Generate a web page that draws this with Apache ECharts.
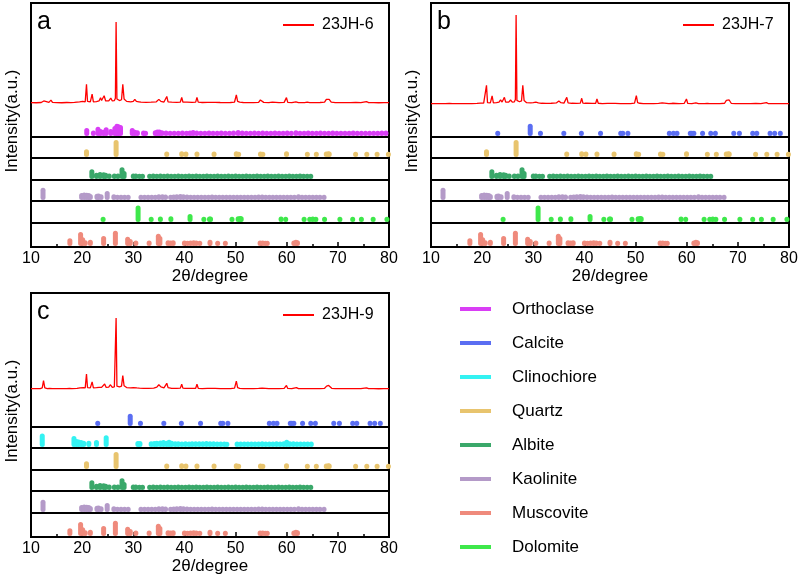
<!DOCTYPE html>
<html lang="en">

<head>
  <script src="https://cdn.jsdelivr.net/npm/echarts@6/dist/echarts.min.js"></script>
  <meta charset="UTF-8">
</head>

<body style="margin:0;background:#fff;">
  <div id="xrdChart" style="width:800px;height:580px;"></div>

  <script type="text/javascript">

    // measured patterns, [2theta, intensity relative to strongest peak]
    var jh6 = [[10,0.5],[11,0.3],[12,0.6],[12.3,0.4],[12.5,2.5],[12.7,0.5],[13.5,0.8],[13.9,3.5],[14.2,0.8],[15,0.5],[16,0.3],[17,0.6],[17.8,0.5],[18.5,0.8],[19.5,1.5],[19.8,3.5],[20.1,2],[20.6,1.5],[20.85,23],[21.05,2],[21.6,1.5],[21.95,11],[22.2,1.5],[22.8,1.8],[23.3,2.5],[23.6,6.5],[23.8,3],[24.1,3],[24.3,9],[24.6,2.5],[25.2,2.5],[25.6,6],[25.9,2.5],[26.3,3],[26.5,6],[26.64,100],[26.8,5],[27.3,3],[27.7,4],[27.95,23],[28.2,5],[28.7,2],[29.5,1.5],[30.0,2],[30.3,4.5],[30.6,2],[30.8,4],[31.1,1.5],[31.5,1],[32.5,0.8],[33.5,1],[34.5,1.5],[35.0,4.5],[35.4,2],[36.0,1.2],[36.55,8],[36.8,1.5],[37.5,1],[38.5,0.8],[39.2,1.2],[39.47,7],[39.7,1.2],[40.1,1],[40.3,3],[40.5,1],[41.5,0.8],[42.2,1],[42.45,7],[42.7,1],[43.5,0.6],[44.5,0.8],[45.6,0.8],[45.8,3],[46.0,0.8],[47,0.6],[48,0.5],[49,0.6],[49.8,1.2],[50.15,10],[50.4,2],[50.8,1],[51.5,0.6],[52.5,0.5],[53.5,0.5],[54.5,0.8],[54.85,3.7],[55.2,1.5],[55.5,0.8],[56.5,0.5],[57.2,1],[57.5,0.5],[58.5,0.5],[59.5,0.8],[59.95,6.6],[60.2,0.8],[61,0.5],[61.8,1.5],[62.3,0.5],[63.5,0.5],[64.0,1],[64.5,0.4],[65.5,0.5],[66.5,0.6],[67.4,1],[67.75,4.5],[68.1,5],[68.3,4.5],[68.7,1],[69.5,0.5],[70.5,0.4],[71.5,0.5],[72.5,0.4],[73.5,0.8],[74.5,0.4],[75.6,1.8],[76,0.4],[77,0.5],[78,0.3],[79,0.5],[80,0.4]];
    var jh7 = [[10,0.4],[11,0.3],[12,0.5],[12.4,0.4],[12.6,1.5],[12.8,0.4],[13.6,0.6],[13.95,2],[14.2,0.5],[15,0.4],[16,0.3],[17,0.5],[18,0.4],[19,0.6],[19.7,1],[20.0,2],[20.3,1],[20.6,1.2],[20.85,21],[21.05,1.5],[21.6,1.2],[21.95,9],[22.2,1.2],[22.8,1.5],[23.3,2],[23.6,4.5],[23.9,2.2],[24.1,2.5],[24.35,7.5],[24.6,2],[25.2,2],[25.55,4.5],[25.9,2],[26.3,2.5],[26.5,5],[26.64,100],[26.8,4],[27.3,2.5],[27.7,3.5],[27.95,21],[28.2,4],[28.7,1.5],[29.5,1.2],[30.0,1.5],[30.3,3.4],[30.5,2],[30.7,3],[31.0,1.2],[31.3,2],[31.6,0.8],[32.5,0.6],[33.5,0.8],[34.5,1.2],[35.0,3.4],[35.4,1.5],[36.0,1],[36.55,7.5],[36.8,1.2],[37.5,0.8],[38.5,0.6],[39.2,1],[39.47,6.4],[39.7,1],[40.1,0.8],[40.3,3],[40.5,0.8],[41.5,0.6],[42.2,0.8],[42.45,5.6],[42.7,0.8],[43.5,0.5],[44.5,0.6],[45.6,0.6],[45.8,2.6],[46.0,0.6],[47,0.5],[48,0.4],[49,0.5],[49.8,1],[50.15,9.4],[50.4,1.5],[50.8,0.8],[51.5,0.5],[52.5,0.4],[53.5,0.4],[54.5,0.6],[54.85,2.2],[55.2,1.2],[55.5,0.6],[56.5,0.4],[57.2,0.8],[57.5,0.4],[58.5,0.4],[59.5,0.6],[59.95,5.6],[60.2,0.6],[61,0.4],[61.8,1.2],[62.3,0.4],[63.5,0.4],[64.0,0.8],[64.5,0.3],[65.5,0.4],[66.5,0.5],[67.4,0.8],[67.75,4],[68.1,5],[68.3,4.5],[68.7,0.8],[69.5,0.4],[70.5,0.3],[71.5,0.4],[72.5,0.3],[73.5,0.6],[74.5,0.3],[75.6,1.5],[76,0.3],[77,0.4],[78,0.3],[79,0.4],[80,0.3]];
    var jh9 = [[10,0.5],[11,0.4],[11.8,0.6],[12.2,1.5],[12.45,11.8],[12.7,1.5],[13.2,0.6],[13.6,0.8],[13.95,2.4],[14.2,0.6],[15,0.5],[16,0.4],[17,0.6],[17.5,0.8],[17.75,2],[18.0,0.6],[19,0.8],[19.6,1.5],[19.9,4.2],[20.2,2],[20.6,1.5],[20.85,21],[21.05,2],[21.6,1.5],[21.95,10],[22.2,1.5],[22.8,1.8],[23.3,2.2],[23.55,4],[23.8,2.2],[24.1,2.5],[24.4,7],[24.7,2.2],[25.2,2.5],[25.5,6],[25.9,2.2],[26.3,3],[26.5,5],[26.64,100],[26.8,4],[27.3,3],[27.7,4],[27.95,19],[28.2,4.5],[28.7,2],[29.5,1.5],[30.0,2],[30.35,4],[30.7,1.5],[31.2,1.2],[32,0.8],[33,0.8],[34,1.2],[34.6,2.5],[35.0,6],[35.4,3],[36.0,1.5],[36.55,8],[36.8,2],[37.5,1],[38.5,0.8],[39.2,1.2],[39.47,6.6],[39.7,1.2],[40.1,1],[40.3,3],[40.5,1],[41.5,0.8],[42.2,1],[42.45,6.6],[42.7,1],[43.5,0.6],[44.5,0.8],[45.6,0.8],[45.8,3],[46.0,0.8],[47,0.6],[48,0.5],[49,0.6],[49.8,1.2],[50.15,11],[50.4,2],[50.8,1],[51.5,0.6],[52.5,0.5],[53.5,0.5],[54.5,0.8],[54.85,2.4],[55.2,1.2],[55.5,0.8],[56.5,0.5],[57.5,0.5],[58.5,0.5],[59.5,0.8],[59.95,5],[60.2,0.8],[61,0.5],[61.9,2],[62.3,0.5],[63.5,0.5],[64.5,0.4],[65.5,0.5],[66.5,0.6],[67.4,1],[67.8,4],[68.2,5],[68.4,4.5],[68.8,1],[69.5,0.5],[70.5,0.4],[71.5,0.5],[72.5,0.4],[73.5,0.6],[74.5,0.4],[75.6,1.5],[76,0.4],[77,0.5],[78,0.3],[79,0.5],[80,0.4]];

    // reference cards, [2theta, relative intensity]
    var orthoclase = [[13.4,0],[15.0,0],[19.0,0],[20.9,25],[22.2,3],[23.1,35],[23.6,15],[24.2,10],[24.7,30],[25.6,15],[26.4,40],[26.8,60],[27.1,55],[27.5,50],[29.8,25],[30.3,10],[30.8,5],[32.0,4],[32.4,2],[34.3,6],[34.7,12],[35.1,12],[35.6,5],[36.4,3],[37.2,2],[38.0,2],[38.8,2],[39.6,3],[40.4,2],[41.1,3],[41.7,7],[42.4,3],[43.2,2],[44.0,2],[44.8,3],[45.6,2],[46.4,2],[47.2,3],[48.0,2],[48.8,2],[49.6,3],[50.5,7],[51.3,3],[52.1,2],[52.9,2],[53.7,3],[54.5,2],[55.3,3],[56.1,2],[56.9,2],[57.7,3],[58.5,2],[59.3,2],[60.1,3],[60.9,2],[61.8,6],[62.6,2],[63.4,2],[64.2,3],[65.0,2],[65.8,2],[66.6,3],[67.4,2],[68.2,2],[69.0,3],[69.8,2],[70.6,2],[71.4,2],[72.2,2],[73.0,3],[73.8,2],[74.6,2],[75.4,2],[76.2,2],[77.0,2],[77.8,1],[78.6,3],[79.4,3]];
    var calcite = [[23.05,1],[29.4,60],[31.4,1],[35.97,2],[39.4,2],[43.15,2],[47.1,1],[47.5,2],[48.5,2],[56.6,1],[57.4,2],[58.1,1],[60.7,1],[61.0,2],[61.4,1],[63.1,1],[64.7,1],[65.6,1],[69.2,1],[70.3,1],[72.9,1],[73.7,1],[76.3,1],[77.2,1],[78.3,1]];
    var clinochiore = [[12.2,70],[15.4,0],[18.4,50],[18.9,25],[19.3,20],[19.8,15],[20.3,10],[21.3,10],[22.8,15],[24.7,55],[26.5,0],[27.7,0],[28.9,0],[30.9,8],[31.3,8],[33.5,5],[34.1,8],[34.6,10],[35.3,12],[35.9,15],[36.5,10],[37.0,18],[37.5,10],[38.2,5],[38.8,5],[39.5,4],[40.2,5],[40.9,4],[41.5,5],[42.2,5],[42.9,6],[43.6,5],[44.3,8],[45.0,6],[45.7,5],[46.4,4],[47.1,4],[47.8,3],[48.3,2],[50.3,3],[51.0,3],[51.7,4],[52.4,3],[53.1,4],[53.8,3],[54.5,4],[55.2,5],[55.9,4],[56.6,3],[57.3,4],[58.0,5],[58.7,4],[59.4,6],[60.0,18],[60.6,6],[61.3,5],[62.0,4],[62.7,3],[63.4,4],[64.1,3],[64.8,3]];
    var quartz = [[20.85,22],[26.64,100],[36.54,3],[39.47,5],[40.29,3],[42.45,4],[45.79,3],[50.14,6],[50.6,2],[54.87,3],[55.33,2],[57.24,0],[59.96,5],[64.03,1],[65.79,1],[67.74,4],[68.14,5],[68.31,3],[73.47,1],[75.66,2],[77.67,1],[79.88,1]];
    var albite = [[13.8,0],[14.6,0],[15.6,0],[18.9,0],[19.9,0],[21.9,38],[22.8,10],[23.5,15],[24.2,14],[24.6,10],[25.3,3],[26.3,3],[27.0,3],[27.8,55],[28.2,25],[30.0,3],[30.5,3],[31.2,2],[31.8,2],[33.2,2],[33.9,3],[34.6,2],[35.3,3],[36.0,2],[36.7,3],[37.4,2],[38.1,2],[38.8,3],[39.5,2],[40.2,2],[40.9,3],[41.6,2],[42.3,3],[43.0,2],[43.7,2],[44.4,3],[45.1,2],[45.8,2],[46.5,3],[47.2,2],[47.9,2],[48.6,3],[49.3,2],[50.0,3],[50.7,2],[51.4,2],[52.1,3],[52.8,2],[53.5,2],[54.2,3],[54.9,2],[55.6,2],[56.3,3],[57.0,2],[57.7,2],[58.4,3],[59.1,2],[59.8,2],[60.5,3],[61.2,2],[61.9,2],[62.6,3],[63.3,2],[64.0,2],[64.7,2]];
    var kaolinite = [[12.35,60],[15.5,0],[16.5,0],[17.8,0],[18.6,0],[19.9,15],[20.4,20],[20.9,17],[21.3,15],[21.6,8],[22.9,10],[23.2,12],[23.7,5],[24.9,32],[26.2,5],[26.9,2],[27.6,1],[28.3,2],[29.0,1],[30.3,0],[31.5,1],[32.2,1],[32.9,1],[33.6,2],[34.3,2],[35.0,5],[35.7,6],[36.3,3],[37.3,1],[37.9,4],[38.5,6],[39.2,8],[39.8,5],[40.5,3],[41.2,2],[41.9,2],[42.6,2],[43.3,2],[44.0,2],[44.7,2],[45.4,3],[46.1,2],[46.8,2],[47.5,2],[48.2,2],[48.9,2],[49.6,2],[50.3,2],[51.0,2],[51.7,2],[52.4,2],[53.1,2],[53.8,2],[54.5,3],[55.2,3],[55.9,2],[56.6,2],[57.3,2],[58.0,2],[58.7,2],[59.4,2],[60.1,2],[60.8,2],[61.5,2],[62.3,5],[63.0,2],[63.7,2],[64.4,2],[65.1,2],[65.8,2],[66.5,2],[67.3,2]];
    var muscovite = [[17.6,22],[19.7,75],[20.1,30],[20.6,5],[21.6,10],[24.2,40],[26.5,85],[28.9,35],[29.4,15],[30.5,3],[33.1,3],[34.9,60],[35.2,40],[36.8,5],[37.3,4],[37.8,5],[40.0,3],[40.6,2],[41.2,3],[41.8,6],[42.3,3],[43.0,2],[45.0,10],[46.5,2],[48.0,1],[54.8,3],[55.3,3],[55.8,2],[56.2,1],[61.4,3],[61.8,10],[62.1,6]];
    var dolomite = [[22.0,0],[24.1,2],[30.94,95],[33.5,2],[35.3,3],[37.35,5],[41.1,25],[43.8,2],[44.9,4],[45.1,3],[49.3,1],[50.5,6],[50.9,8],[51.1,6],[58.9,3],[59.8,2],[63.4,1],[64.5,2],[65.1,3],[65.7,2],[67.4,2],[70.4,1],[72.9,1],[74.6,1],[76.9,1],[79.6,1]];

    var mineralNames = ['Orthoclase', 'Calcite', 'Clinochiore', 'Quartz', 'Albite', 'Kaolinite', 'Muscovite', 'Dolomite'];
    var xRange = [10, 80];

    var cards = {
      Orthoclase: { data: orthoclase, color: '#d93ef5' },
      Calcite: { data: calcite, color: '#5b6ef2' },
      Clinochiore: { data: clinochiore, color: '#33f2f2' },
      Quartz: { data: quartz, color: '#e8c46e' },
      Albite: { data: albite, color: '#3aa86a' },
      Kaolinite: { data: kaolinite, color: '#b49ac8' },
      Muscovite: { data: muscovite, color: '#ef8a7c' },
      Dolomite: { data: dolomite, color: '#3ee84b' }
    };

    var panels = [
      { letter: 'a', left: 31, top: 3, sample: '23JH-6', data: jh6, yMin: -21, yMax: 123.5,
        cards: ['Orthoclase', 'Quartz', 'Albite', 'Kaolinite', 'Dolomite', 'Muscovite'] },
      { letter: 'b', left: 431, top: 3, sample: '23JH-7', data: jh7, yMin: -18, yMax: 113.5,
        cards: ['Calcite', 'Quartz', 'Albite', 'Kaolinite', 'Dolomite', 'Muscovite'] },
      { letter: 'c', left: 31, top: 293, sample: '23JH-9', data: jh9, yMin: -29.6, yMax: 135.2,
        cards: ['Calcite', 'Clinochiore', 'Quartz', 'Albite', 'Kaolinite', 'Muscovite'] }
    ];

    var font = 'Liberation Sans, Arial, sans-serif';
    var panelW = 358, panelH = 244;
    var baselines = [134, 155, 177, 198, 220, 244];   // card baselines from panel top
    var stripH = 20;

    function stick(color) {
      return function (params, api) {
        var x = api.value(0);
        var p0 = api.coord([x, 0]);
        var p1 = api.coord([x, api.value(1)]);
        return {
          type: 'line',
          shape: { x1: p0[0], y1: p0[1] - 3.6, x2: p1[0], y2: p1[1] - 3.6 },
          style: { stroke: color, lineWidth: 5, lineCap: 'round' }
        };
      };
    }

    var grid = [], xAxis = [], yAxis = [], series = [], title = [], legend = [];

    panels.forEach(function (p) {
      // frame with the real axis
      var gi = grid.length;
      grid.push({ left: p.left, top: p.top, width: panelW, height: panelH, show: true,
        borderColor: '#000', borderWidth: 2, backgroundColor: 'transparent', outerBoundsMode: 'none' });
      xAxis.push({
        gridIndex: gi, type: 'value', min: xRange[0], max: xRange[1], interval: 10,
        name: '2θ/degree', nameLocation: 'middle', nameGap: 15,
        nameTextStyle: { color: '#000', fontSize: 17, fontFamily: font },
        axisLine: { onZero: false, lineStyle: { color: '#000', width: 2 } },
        axisTick: { inside: true, length: 5, lineStyle: { color: '#000', width: 1.5 } },
        minorTick: { show: true, splitNumber: 2, length: 3, lineStyle: { color: '#000', width: 1.5 } },
        axisLabel: { color: '#000', fontSize: 16, margin: 4, fontFamily: font },
        splitLine: { show: false }, minorSplitLine: { show: false }
      });
      yAxis.push({
        gridIndex: gi, type: 'value', min: 0, max: 1,
        name: 'Intensity(a.u.)', nameLocation: 'middle', nameGap: 10,
        nameTextStyle: { color: '#000', fontSize: 17, fontFamily: font, padding: [0, 0, 0, 8] },
        axisLine: { show: false }, axisTick: { show: false }, axisLabel: { show: false },
        splitLine: { show: false }
      });

      // measured pattern
      gi = grid.length;
      grid.push({ left: p.left, top: p.top, width: panelW, height: 117, outerBoundsMode: 'none' });
      xAxis.push({ gridIndex: gi, type: 'value', min: xRange[0], max: xRange[1], show: false });
      yAxis.push({ gridIndex: gi, type: 'value', min: p.yMin, max: p.yMax, show: false });
      series.push({
        name: p.sample, type: 'line', xAxisIndex: gi, yAxisIndex: gi, data: p.data,
        symbol: 'none', lineStyle: { color: '#ff0000', width: 1.3 }, itemStyle: { color: '#ff0000' }
      });

      // reference cards
      p.cards.forEach(function (name, k) {
        var sg = grid.length;
        grid.push({ left: p.left, top: p.top + baselines[k] - stripH, width: panelW, height: stripH, outerBoundsMode: 'none' });
        xAxis.push({
          gridIndex: sg, type: 'value', min: xRange[0], max: xRange[1],
          axisLine: { onZero: false, lineStyle: { color: '#000', width: 2 } },
          axisTick: { show: false }, axisLabel: { show: false }, splitLine: { show: false }
        });
        yAxis.push({ gridIndex: sg, type: 'value', min: 0, max: 167, show: false });
        series.push({
          name: name, type: 'custom', xAxisIndex: sg, yAxisIndex: sg,
          data: cards[name].data, itemStyle: { color: cards[name].color },
          renderItem: stick(cards[name].color)
        });
      });

      title.push({
        text: p.letter, left: p.left + 6, top: p.top + 7, padding: 0,
        textStyle: { fontSize: 25, fontWeight: 'normal', color: '#000', fontFamily: font }
      });
      legend.push({
        data: [p.sample], left: p.left + 252, top: p.top + 14, padding: 0,
        icon: 'rect', itemWidth: 31, itemHeight: 2,
        itemStyle: { color: '#ff0000' },
        textStyle: { fontSize: 16, color: '#000', fontFamily: font, padding: [0, 0, 0, 3] }
      });
    });

    legend.push({
      orient: 'vertical', left: 460, top: 299, padding: 0, itemGap: 14,
      icon: 'rect', itemWidth: 31, itemHeight: 4,
      data: mineralNames.map(function (n) { return { name: n, itemStyle: { color: cards[n].color } }; }),
      textStyle: { fontSize: 17, lineHeight: 20, color: '#000', fontFamily: font, padding: [0, 0, 0, 16] }
    });

    var chart = echarts.init(document.getElementById('xrdChart'));
    chart.setOption({
      animation: false,
      backgroundColor: '#fff',
      textStyle: { fontFamily: font },
      title: title,
      legend: legend,
      grid: grid,
      xAxis: xAxis,
      yAxis: yAxis,
      series: series
    });
  </script>
</body>

</html>
